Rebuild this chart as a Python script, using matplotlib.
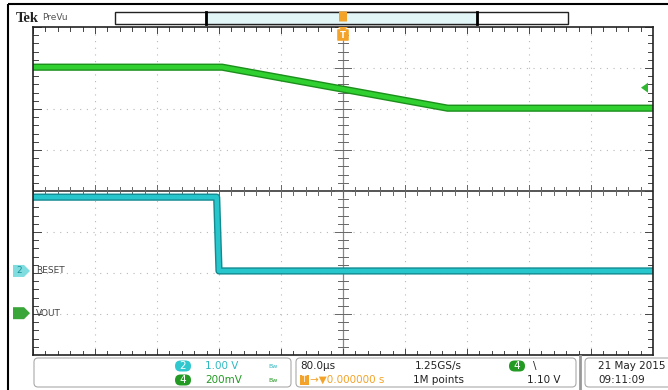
"""
Scope capture redraw: VOUT ramp (ch4) and RESET edge (ch2).
"""

import matplotlib

matplotlib.use("Agg")
import matplotlib.pyplot as plt
from matplotlib.patches import FancyBboxPatch, Polygon, Rectangle

# time base: 80 us/div, 10 divisions, trigger at centre
t_per_div = 80.0

# ch4 VOUT (200 mV/div), ground marker 2.98 div below centre
vout_t = [-400, -156, 135, 400]
vout_v = [1.20, 1.20, 1.00, 1.00]
vout_scale = 0.2
vout_pos = -2.98

# ch2 RESET (1.00 V/div), ground marker 1.95 div below centre
reset_t = [-400, -163, -160, 400]
reset_v = [1.80, 1.80, 0.0, 0.0]
reset_scale = 1.0
reset_pos = -1.95

trig_level = 1.10

W, H = 668, 390
fig = plt.figure(figsize=(W / 100, H / 100), dpi=100)

# graticule axes (division units)
x0, x1, y0, y1 = 33, 653, 27, 355
ax = fig.add_axes([x0 / W, 1 - y1 / H, (x1 - x0) / W, (y1 - y0) / H])
ax.set_xlim(-5, 5)
ax.set_ylim(-4, 4)
ax.set_xticks([])
ax.set_yticks([])
for s in ax.spines.values():
    s.set_linewidth(1.2)
    s.set_color("#222222")

grid_col = "#b8b8b8"
for i in range(-4, 5):
    if i != 0:
        ax.axvline(i, color=grid_col, lw=0.8, ls=(0, (1, 5)))
for j in range(-3, 4):
    if j != 0:
        ax.axhline(j, color=grid_col, lw=0.8, ls=(0, (1, 5)))
ax.axvline(0, color="#888888", lw=0.9)
ax.axhline(0, color="#555555", lw=1.4)

# minor ticks on centre lines and on the border
for k in range(-25, 26):
    x = k / 5
    h = 0.09 if k % 5 else 0.14
    ax.plot([x, x], [-h, h], color="#666666", lw=0.7)
    ax.plot([x, x], [4, 4 - h], color="#444444", lw=0.7)
    ax.plot([x, x], [-4, -4 + h], color="#444444", lw=0.7)
for k in range(-20, 21):
    y = k / 5
    h = 0.08 if k % 5 else 0.13
    ax.plot([-h, h], [y, y], color="#666666", lw=0.7)
    ax.plot([5, 5 - h], [y, y], color="#444444", lw=0.7)
    ax.plot([-5, -5 + h], [y, y], color="#444444", lw=0.7)

# traces
xs4 = [t / t_per_div for t in vout_t]
ys4 = [v / vout_scale + vout_pos for v in vout_v]
ax.plot(xs4, ys4, color="#1c8f1c", lw=5.2, solid_capstyle="butt")
ax.plot(xs4, ys4, color="#2fd02f", lw=3.2, solid_capstyle="butt")

xs2 = [t / t_per_div for t in reset_t]
ys2 = [v / reset_scale + reset_pos for v in reset_v]
ax.plot(xs2, ys2, color="#138a90", lw=5.2, solid_capstyle="butt")
ax.plot(xs2, ys2, color="#27c6cc", lw=3.2, solid_capstyle="butt")

# overlay in pixel coordinates for the scope furniture
ov = fig.add_axes([0, 0, 1, 1], zorder=5)
ov.set_xlim(0, W)
ov.set_ylim(H, 0)
ov.axis("off")
ov.patch.set_alpha(0)

ov.plot([8, W], [4, 4], color="black", lw=1.5, solid_capstyle="butt")
ov.plot([8, 8], [4, H], color="black", lw=1.5, solid_capstyle="butt")

ov.text(16, 19, "Tek", fontsize=10.5, fontweight="bold", family="Liberation Serif",
        va="center", color="#222222")
ov.text(42, 17, "PreVu", fontsize=6.5, va="center", color="#555555")

# record bar
ov.add_patch(Rectangle((115, 12), 453, 12, fc="white", ec="#222222", lw=1))
ov.add_patch(Rectangle((206, 12), 271, 12, fc="#e2f5f7", ec="#222222", lw=1))
ov.plot([206, 206], [12, 24], color="black", lw=2)
ov.plot([477, 477], [12, 24], color="black", lw=2)

# trigger position marker
ov.add_patch(FancyBboxPatch((339.5, 12), 7, 9, boxstyle="round,pad=0.5",
                            fc="#f3a32a", ec="none"))
ov.add_patch(FancyBboxPatch((338, 30), 10, 10, boxstyle="round,pad=0.8",
                            fc="#f3a32a", ec="none"))
ov.add_patch(Polygon([[338, 27], [348, 27], [343, 31]], fc="#f3a32a", ec="none"))
ov.text(343, 35, "T", fontsize=6, color="white", ha="center", va="center",
        fontweight="bold")

# trigger level arrow on right
ty = 191 - (trig_level / vout_scale + vout_pos) * 41
ov.add_patch(Polygon([[641, ty], [648, ty - 5], [648, ty + 5]], fc="#2fb82f", ec="none"))

# channel ground markers
gy2 = 191 - reset_pos * 41
gy4 = 191 - vout_pos * 41
ov.add_patch(Polygon([[13, gy2 - 6], [24, gy2 - 6], [30, gy2], [24, gy2 + 6], [13, gy2 + 6]],
                     fc="#7fdde0", ec="none"))
ov.text(19, gy2, "2", fontsize=6.5, color="#1a8f94", ha="center", va="center")
ov.text(36, gy2, "RESET", fontsize=6.5, color="#444444", va="center")
ov.add_patch(Polygon([[13, gy4 - 6], [24, gy4 - 6], [30, gy4], [24, gy4 + 6], [13, gy4 + 6]],
                     fc="#3aa63a", ec="none"))
ov.text(36, gy4, "VOUT", fontsize=6.5, color="#444444", va="center")

# bottom readout boxes
for bx, bw in [(34, 257), (296, 280), (585, 90)]:
    ov.add_patch(FancyBboxPatch((bx, 358), bw, 29, boxstyle="round,pad=0,rounding_size=4",
                                fc="white", ec="#aaaaaa", lw=0.8))
ov.plot([580, 580], [356, 390], color="#999999", lw=2)

fs = 7.5


def badge(x, y, label, col):
    ov.add_patch(FancyBboxPatch((x - 8, y - 5.5), 16, 11, boxstyle="round,pad=0,rounding_size=5.5",
                                fc=col, ec="none"))
    ov.text(x, y, label, fontsize=7.5, color="white", ha="center", va="center")


badge(183, 366, "2", "#2fc8cf")
ov.text(205, 366, "1.00 V", fontsize=fs, color="#2fb8c0", va="center")
ov.text(268, 367, "Bw", fontsize=4.5, color="#2fb8c0", va="center")
badge(183, 380, "4", "#239a23")
ov.text(205, 380, "200mV", fontsize=fs, color="#239a23", va="center")
ov.text(268, 381, "Bw", fontsize=4.5, color="#239a23", va="center")

ov.text(300, 366, "80.0µs", fontsize=fs, color="#222222", va="center")
ov.add_patch(Rectangle((300, 375), 9, 10, fc="#f3a32a", ec="none"))
ov.text(304.5, 380, "T", fontsize=5.5, color="white", ha="center", va="center")
ov.text(310, 380, "→▼0.000000 s", fontsize=fs, color="#f3a32a", va="center")

ov.text(415, 366, "1.25GS/s", fontsize=fs, color="#222222", va="center")
ov.text(413, 380, "1M points", fontsize=fs, color="#222222", va="center")

badge(517, 366, "4", "#239a23")
ov.text(533, 366, "\\", fontsize=fs, color="#222222", va="center")
ov.text(527, 380, "1.10 V", fontsize=fs, color="#222222", va="center")

ov.text(598, 366, "21 May 2015", fontsize=fs, color="#222222", va="center")
ov.text(598, 380, "09:11:09", fontsize=fs, color="#222222", va="center")

fig.savefig("out.png", dpi=100)
